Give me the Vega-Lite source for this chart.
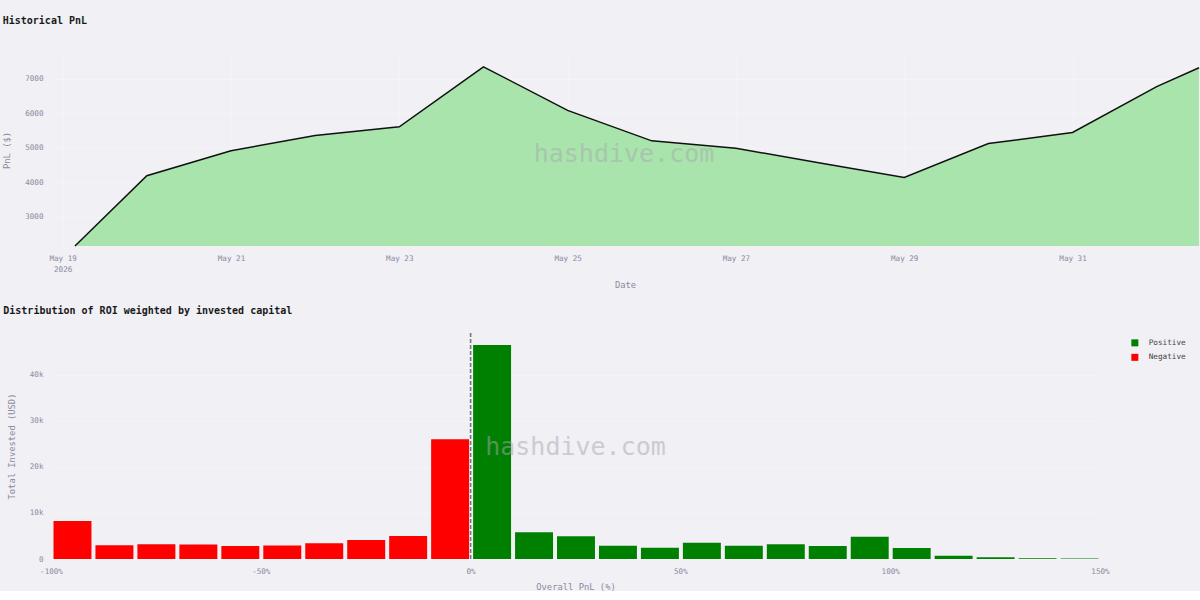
{
  "$schema": "https://vega.github.io/schema/vega-lite/v6.json",
  "background": "#f0f0f5",
  "padding": {"left": 2, "top": 16, "right": 0, "bottom": 0},
  "spacing": 17,
  "resolve": {"scale": {"color": "independent"}},
  "config": {
    "view": {"stroke": null},
    "font": "DejaVu Sans Mono",
    "axis": {
      "labelFont": "DejaVu Sans Mono",
      "labelFontSize": 7.6,
      "labelColor": "#8a8aa0",
      "titleFont": "DejaVu Sans Mono",
      "titleFontSize": 8.8,
      "titleFontWeight": "normal",
      "titleColor": "#8a8aa0",
      "ticks": false,
      "tickSize": 0,
      "domain": false,
      "gridColor": "#ffffff",
      "gridOpacity": 0.3,
      "gridWidth": 1,
      "labelFlush": false,
      "labelOverlap": false,
      "labelBound": false
    },
    "axisY": {"labelPadding": 8, "titlePadding": 13},
    "axisX": {"labelPadding": 8, "titlePadding": 7.5},
    "title": {"font": "DejaVu Sans Mono", "fontSize": 10, "fontWeight": "bold", "color": "#1a1a1a", "anchor": "start", "frame": "bounds"},
    "legend": {"labelFont": "DejaVu Sans Mono", "labelFontSize": 7.7, "labelColor": "#444444", "symbolType": "square", "symbolSize": 49, "symbolStrokeWidth": 0, "labelOffset": 10, "rowPadding": 5.5, "padding": 6, "offset": 25}
  },
  "vconcat": [
    {
      "title": {"text": "Historical PnL", "offset": 28},
      "width": 1148,
      "height": 192,
      "layer": [
        {
          "data": {"name": "pnl"},
          "mark": {"type": "area", "color": "#9be29d", "opacity": 0.85},
          "encoding": {
            "x": {
              "field": "date", "type": "temporal",
              "scale": {"domain": [{"year": 2026, "month": 5, "date": 18, "hours": 20, "minutes": 40}, {"year": 2026, "month": 6, "date": 1, "hours": 12, "minutes": 4}]},
              "axis": {
                "title": "Date",
                "grid": true,
                "values": [
                  {"year": 2026, "month": 5, "date": 19},
                  {"year": 2026, "month": 5, "date": 21},
                  {"year": 2026, "month": 5, "date": 23},
                  {"year": 2026, "month": 5, "date": 25},
                  {"year": 2026, "month": 5, "date": 27},
                  {"year": 2026, "month": 5, "date": 29},
                  {"year": 2026, "month": 5, "date": 31}
                ],
                "labelExpr": "timeFormat(datum.value, '%d') === '19' ? ['May 19', '2026'] : timeFormat(datum.value, '%b %d')",
                "labelLineHeight": 11
              }
            },
            "y": {
              "field": "pnl", "type": "quantitative",
              "scale": {"domain": [2159, 7720], "nice": false, "zero": false},
              "axis": {"title": "PnL ($)", "values": [3000, 4000, 5000, 6000, 7000], "format": "d", "grid": true}
            },
            "y2": {"datum": 2159}
          }
        },
        {
          "data": {"name": "pnl"},
          "mark": {"type": "line", "color": "#111111", "strokeWidth": 1.5},
          "encoding": {
            "x": {"field": "date", "type": "temporal"},
            "y": {"field": "pnl", "type": "quantitative"}
          }
        },
        {
          "data": {"name": "wm"},
          "mark": {"type": "text", "font": "DejaVu Sans Mono", "fontSize": 25, "color": "#a8a8b0", "opacity": 0.5, "align": "center", "baseline": "middle"},
          "encoding": {
            "x": {"field": "when", "type": "temporal"},
            "y": {"field": "level", "type": "quantitative"},
            "text": {"field": "label"}
          }
        }
      ]
    },
    {
      "title": {"text": "Distribution of ROI weighted by invested capital", "offset": 16, "dx": -4},
      "width": 1049,
      "height": 226,
      "layer": [
        {
          "data": {"name": "roi"},
          "mark": {"type": "bar", "binSpacing": 4},
          "encoding": {
            "x": {
              "field": "bin_start", "type": "quantitative", "bin": {"binned": true, "step": 10},
              "scale": {"domain": [-100, 150], "nice": false, "zero": false},
              "axis": {"title": "Overall PnL (%)", "values": [-100, -50, 0, 50, 100, 150], "labelExpr": "datum.value + '%'", "grid": false}
            },
            "x2": {"field": "bin_end"},
            "y": {
              "field": "invested", "type": "quantitative",
              "scale": {"domain": [0, 49100], "nice": false},
              "axis": {"title": "Total Invested (USD)", "values": [0, 10000, 20000, 30000, 40000], "labelExpr": "datum.value == 0 ? '0' : format(datum.value / 1000, 'd') + 'k'", "grid": true}
            },
            "color": {
              "field": "type", "type": "nominal",
              "scale": {"domain": ["Positive", "Negative"], "range": ["#008000", "#ff0000"]},
              "legend": {"title": null, "orient": "right"}
            }
          }
        },
        {
          "data": {"values": [{}]},
          "mark": {"type": "rule", "color": "#777777", "strokeWidth": 1.6, "strokeDash": [4, 2]},
          "encoding": {"x": {"datum": 0, "type": "quantitative"}}
        },
        {
          "data": {"name": "wm2"},
          "mark": {"type": "text", "font": "DejaVu Sans Mono", "fontSize": 25, "color": "#a8a8b0", "opacity": 0.5, "align": "center", "baseline": "middle"},
          "encoding": {
            "x": {"field": "pos", "type": "quantitative"},
            "y": {"field": "level", "type": "quantitative"},
            "text": {"field": "label"}
          }
        }
      ]
    }
  ],
  "datasets": {
    "pnl": [
      {"date": "2026-05-19T03:30:00", "pnl": 2159},
      {"date": "2026-05-20T00:00:00", "pnl": 4195},
      {"date": "2026-05-21T00:00:00", "pnl": 4919},
      {"date": "2026-05-22T00:00:00", "pnl": 5357},
      {"date": "2026-05-23T00:00:00", "pnl": 5612},
      {"date": "2026-05-24T00:00:00", "pnl": 7350},
      {"date": "2026-05-25T00:00:00", "pnl": 6087},
      {"date": "2026-05-26T00:00:00", "pnl": 5204},
      {"date": "2026-05-27T00:00:00", "pnl": 4990},
      {"date": "2026-05-28T00:00:00", "pnl": 4560},
      {"date": "2026-05-29T00:00:00", "pnl": 4146},
      {"date": "2026-05-30T00:00:00", "pnl": 5125},
      {"date": "2026-05-31T00:00:00", "pnl": 5446},
      {"date": "2026-06-01T00:00:00", "pnl": 6776},
      {"date": "2026-06-01T12:04:00", "pnl": 7320}
    ],
    "wm": [
      {"label": "hashdive.com", "when": "2026-05-25T16:05:00", "level": 4817}
    ],
    "wm2": [
      {"label": "hashdive.com", "pos": 25, "level": 24300}
    ],
    "roi": [
      {"bin_start": -100, "bin_end": -90, "invested": 8260, "type": "Negative"},
      {"bin_start": -90, "bin_end": -80, "invested": 2980, "type": "Negative"},
      {"bin_start": -80, "bin_end": -70, "invested": 3200, "type": "Negative"},
      {"bin_start": -70, "bin_end": -60, "invested": 3130, "type": "Negative"},
      {"bin_start": -60, "bin_end": -50, "invested": 2830, "type": "Negative"},
      {"bin_start": -50, "bin_end": -40, "invested": 2910, "type": "Negative"},
      {"bin_start": -40, "bin_end": -30, "invested": 3410, "type": "Negative"},
      {"bin_start": -30, "bin_end": -20, "invested": 4130, "type": "Negative"},
      {"bin_start": -20, "bin_end": -10, "invested": 5000, "type": "Negative"},
      {"bin_start": -10, "bin_end": 0, "invested": 26000, "type": "Negative"},
      {"bin_start": 0, "bin_end": 10, "invested": 46500, "type": "Positive"},
      {"bin_start": 10, "bin_end": 20, "invested": 5800, "type": "Positive"},
      {"bin_start": 20, "bin_end": 30, "invested": 4930, "type": "Positive"},
      {"bin_start": 30, "bin_end": 40, "invested": 2900, "type": "Positive"},
      {"bin_start": 40, "bin_end": 50, "invested": 2460, "type": "Positive"},
      {"bin_start": 50, "bin_end": 60, "invested": 3550, "type": "Positive"},
      {"bin_start": 60, "bin_end": 70, "invested": 2900, "type": "Positive"},
      {"bin_start": 70, "bin_end": 80, "invested": 3200, "type": "Positive"},
      {"bin_start": 80, "bin_end": 90, "invested": 2830, "type": "Positive"},
      {"bin_start": 90, "bin_end": 100, "invested": 4860, "type": "Positive"},
      {"bin_start": 100, "bin_end": 110, "invested": 2400, "type": "Positive"},
      {"bin_start": 110, "bin_end": 120, "invested": 720, "type": "Positive"},
      {"bin_start": 120, "bin_end": 130, "invested": 360, "type": "Positive"},
      {"bin_start": 130, "bin_end": 140, "invested": 150, "type": "Positive"},
      {"bin_start": 140, "bin_end": 150, "invested": 100, "type": "Positive"}
    ]
  }
}
